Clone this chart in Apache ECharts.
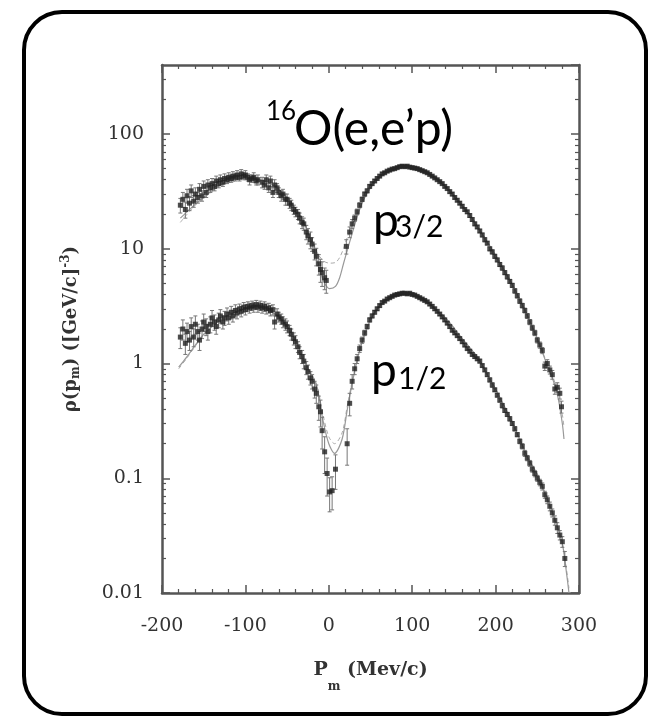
<!DOCTYPE html>
<html><head><meta charset="utf-8">
<script src="https://cdn.jsdelivr.net/npm/echarts@6/dist/echarts.min.js"></script>
<style>html,body{margin:0;padding:0;background:#fff}#c{width:651px;height:718px}</style>
</head><body><div id="c"></div>
<script>
// ---- axis ticks ----
const xTicks = [-200, -100, 0, 100, 200, 300];
const yTickLabels = ['0.01', '0.1', '1', '10', '100'];

// ---- theory curves (momentum MeV/c, density) ----
const curveMom32 = [-178,-170,-160,-150,-140,-130,-120,-110,-100,-90,-80,-70,-60,-50,-40,-30,-20,-13,-6,1,8,13,18,22,28,35,42,50,60,70,80,90,100,110,120,130,140,150,160,170,180,190,200,210,220,230,240,250,260,270,275,280,282];
const solid32 = [18.5,21,24.5,28,32,36,39,41,41.5,41,39.5,37,33,28,22.5,17,11,7.5,5.2,4.5,4.7,5.6,7.6,9.6,13.6,20,27,34,41,46.5,50,52,51.5,49,45.5,41,35.5,29.5,24,19.5,15,11.5,8.8,6.6,4.9,3.5,2.45,1.65,1.05,0.68,0.5,0.3,0.22];
const dashed32 = [17,20,24,27.5,31.5,35.5,38.5,40.5,41.5,41,39.5,37,33,28,22.5,17,11.5,9,7.8,7.5,7.6,8.4,10.2,12.5,16,21,27.5,34,41,46.5,50,52,51.5,49,45.5,41,35.5,29.5,24,19.5,15,11.5,8.8,6.6,4.9,3.5,2.45,1.65,1.08,0.72,0.55,0.36,0.28];

const curveMom12 = [-180,-170,-160,-150,-140,-130,-120,-110,-100,-90,-80,-70,-60,-50,-40,-30,-20,-14,-7,0,7,16,22,28,35,42,50,60,70,80,90,100,110,120,130,140,150,160,170,180,190,200,210,220,230,240,250,260,270,280,285,288];
const solid12 = [0.93,1.15,1.45,1.8,2.1,2.4,2.65,2.85,3.0,3.05,3.0,2.85,2.55,2.1,1.6,1.05,0.78,0.62,0.32,0.2,0.165,0.22,0.39,0.67,1.15,1.7,2.4,3.1,3.6,3.95,4.1,4.0,3.75,3.4,2.9,2.5,2.05,1.65,1.35,1.1,0.8,0.6,0.43,0.31,0.21,0.145,0.108,0.072,0.046,0.027,0.015,0.01];
const dashed12 = [0.9,1.12,1.42,1.78,2.1,2.4,2.65,2.85,3.0,3.05,3.0,2.85,2.55,2.1,1.6,1.08,0.8,0.64,0.36,0.23,0.2,0.25,0.42,0.7,1.15,1.7,2.4,3.1,3.6,3.95,4.1,4.0,3.75,3.4,2.9,2.5,2.05,1.65,1.35,1.1,0.8,0.6,0.43,0.31,0.21,0.145,0.108,0.072,0.046,0.027,0.016,0.011];

// ---- measured points [momentum, density, error] ----
const data32 = [
[-178,24,3.5],[-175,27,4],[-172,22,3.5],[-170,29,4],[-167,25,3.5],[-165,32,4],[-162,26,3],[-160,30,4],[-157,28,3],[-155,33,4],
[-152,29,3],[-150,35,4],[-147,31,3],[-145,36,4],[-142,34,3],[-140,37,4],[-137,35,3],[-135,39,4],[-132,37,3],[-130,40,4],
[-127,38,3],[-125,41,4],[-122,40,3],[-120,42,4],[-117,41,3],[-115,43,4],[-112,42,3],[-110,44,4],[-107,42,3],[-105,45,4],
[-102,43,3],[-100,44,4],[-97,42,3],[-95,40,4],[-92,41,3],[-90,42,4],[-87,39,3],[-85,40,4],[-80,38,4],[-77,36,3],
[-75,40,4],[-72,34,3],[-70,39,4],[-67,31,3],[-65,36,4],[-62,34,3],[-60,31,3],[-57,29,3],[-55,30,3],[-52,27,3],
[-50,27,3],[-47,25,2.5],[-45,24,2.5],[-42,22,2],[-40,21,2],[-37,20,2],[-35,18.5,2],[-32,17,2],[-30,16.5,2],[-27,14,2],
[-25,13,2],[-22,12,2],[-20,11,1.5],[-17,9.5,1.5],[-15,8.6,1.5],[-12,7.4,1.5],[-10,6.6,1.5],[-8,6.2,1.5],[-5,5.6,1.2],[-3,5.3,1.2],
[21,10.5,1.5],[25,14,1.5],[28,16.5,1.5],[31,18.5,1.2],[34,21,1.2],[37,24,1.2],[40,27,1.2],[43,30,1.2],[46,32,1.2],[49,35,1.2],
[52,37,1.2],[55,39,1.2],[58,41,1.2],[61,43,1.2],[64,45,1.2],[67,46,1.2],[70,47.5,1.2],[73,48.5,1.2],[76,49.5,1.2],[79,50,1.2],
[82,51,1.2],[85,52,1.2],[88,52.5,1.2],[91,52,1.2],[94,52.5,1.2],[97,51.5,1.2],[100,51,1.2],[103,50.5,1.2],[106,50,1.2],[109,49,1.2],
[112,48,1.2],[115,47,1.2],[118,46,1.2],[121,44.5,1.2],[124,43,1.2],[127,41.5,1],[130,40,1],[133,38.5,1],[136,37,1],[139,35,1],
[142,33.5,1],[145,31.5,1],[148,30,1],[151,28,0.8],[154,26.5,0.8],[157,25,0.8],[160,23.5,0.8],[163,22,0.7],[166,21,0.7],[169,19.5,0.7],
[172,18,0.6],[175,16.5,0.6],[178,15.5,0.5],[181,14.3,0.5],[184,13.2,0.5],[187,12,0.5],[190,11.2,0.4],[193,10,0.4],[196,9.4,0.4],[199,8.6,0.35],
[202,8,0.3],[205,7.3,0.3],[208,6.8,0.3],[211,6.2,0.25],[214,5.7,0.25],[217,5.2,0.2],[220,4.8,0.2],[223,4.3,0.2],[226,3.9,0.18],[229,3.5,0.16],
[232,3.2,0.15],[235,2.9,0.14],[238,2.6,0.13],[241,2.3,0.12],[244,2.05,0.11],[247,1.85,0.1],[250,1.6,0.09],[253,1.45,0.09],[256,1.3,0.08],[259,0.95,0.08],
[262,1.0,0.08],[265,0.88,0.07],[268,0.8,0.07],[271,0.6,0.06],[274,0.62,0.06],[277,0.55,0.06],[279,0.42,0.05]
];
const data12 = [
[-178,1.7,0.35],[-175,2.0,0.4],[-172,1.5,0.3],[-170,1.9,0.35],[-167,1.6,0.3],[-165,2.1,0.4],[-162,1.7,0.3],[-160,2.2,0.4],[-157,1.9,0.3],[-155,1.6,0.3],
[-152,2.0,0.35],[-150,2.3,0.4],[-147,2.1,0.35],[-145,1.9,0.3],[-142,2.2,0.35],[-140,2.5,0.4],[-137,2.3,0.35],[-135,2.1,0.3],[-132,2.4,0.35],[-130,2.6,0.35],
[-127,2.3,0.3],[-125,2.5,0.35],[-122,2.7,0.35],[-120,2.5,0.3],[-117,2.8,0.35],[-115,2.6,0.3],[-112,2.9,0.35],[-110,2.75,0.3],[-107,3.0,0.3],[-105,2.85,0.3],
[-102,3.1,0.3],[-100,2.95,0.3],[-97,3.15,0.3],[-95,3.05,0.3],[-92,3.2,0.3],[-90,3.1,0.3],[-87,3.25,0.3],[-85,3.1,0.3],[-82,3.2,0.3],[-80,3.05,0.3],
[-77,3.15,0.3],[-75,3.0,0.3],[-72,3.05,0.3],[-70,2.9,0.3],[-67,2.95,0.3],[-65,2.3,0.3],[-62,2.7,0.3],[-60,2.55,0.25],[-57,2.45,0.25],[-55,2.3,0.25],
[-52,2.2,0.25],[-50,2.1,0.25],[-47,1.95,0.2],[-45,1.8,0.2],[-42,1.65,0.2],[-40,1.55,0.2],[-37,1.4,0.15],[-35,1.25,0.15],[-32,1.15,0.15],[-30,1.05,0.15],
[-27,0.92,0.12],[-25,0.85,0.12],[-22,0.75,0.1],[-20,0.7,0.1],[-17,0.6,0.1],[-15,0.55,0.1],[-12,0.42,0.1],[-10,0.38,0.1],[-8,0.26,0.08],[-5,0.17,0.06],
[-2,0.11,0.04],[1,0.076,0.025],[4,0.078,0.025],[8,0.12,0.04],
[22,0.2,0.07],[25,0.45,0.1],[28,0.7,0.1],[31,0.9,0.1],[34,1.1,0.1],[37,1.35,0.1],[40,1.6,0.1],[43,1.85,0.1],[46,2.1,0.1],[49,2.4,0.1],
[52,2.6,0.1],[55,2.8,0.1],[58,3.0,0.1],[61,3.2,0.1],[64,3.4,0.1],[67,3.5,0.1],[70,3.65,0.1],[73,3.75,0.1],[76,3.85,0.1],[79,3.95,0.1],
[82,4.0,0.1],[85,4.05,0.1],[88,4.1,0.1],[91,4.1,0.1],[94,4.05,0.1],[97,4.1,0.1],[100,4.0,0.1],[103,3.95,0.1],[106,3.85,0.1],[109,3.75,0.1],
[112,3.65,0.1],[115,3.55,0.1],[118,3.45,0.1],[121,3.3,0.1],[124,3.15,0.1],[127,3.0,0.1],[130,2.85,0.08],[133,2.7,0.08],[136,2.55,0.08],[139,2.4,0.08],
[142,2.25,0.07],[145,2.1,0.07],[148,1.95,0.06],[151,1.85,0.06],[154,1.75,0.05],[157,1.65,0.05],[160,1.55,0.05],[163,1.45,0.05],[166,1.35,0.04],[169,1.28,0.04],
[172,1.2,0.04],[175,1.15,0.04],[178,1.1,0.04],[181,1.05,0.04],[184,0.96,0.03],[187,0.88,0.03],[190,0.8,0.03],[193,0.72,0.03],[196,0.65,0.03],[199,0.59,0.02],
[202,0.53,0.02],[205,0.48,0.02],[208,0.43,0.02],[211,0.39,0.015],[214,0.36,0.015],[217,0.33,0.015],[220,0.3,0.012],[223,0.27,0.012],[226,0.24,0.01],[229,0.21,0.01],
[232,0.19,0.01],[235,0.165,0.01],[238,0.15,0.008],[241,0.135,0.008],[244,0.12,0.007],[247,0.11,0.007],[250,0.1,0.006],[253,0.092,0.006],[256,0.085,0.006],[259,0.072,0.005],
[262,0.065,0.005],[265,0.057,0.005],[268,0.05,0.004],[271,0.043,0.004],[274,0.037,0.004],[277,0.032,0.003],[280,0.028,0.003],[283,0.02,0.003]
];

// ---- build ----
const zip = (xs, ys) => xs.map((x, i) => [x, ys[i]]);
const yMinor = [];
[0.01, 0.1, 1, 10, 100].forEach(d => { for (let k = 2; k <= 9; k++) { const v = +(d * k).toPrecision(3); if (v < 400) yMinor.push(v); } });

const AX = '#555';
const serif = 'DejaVu Serif';
const chart = echarts.init(document.getElementById('c'), null, { renderer: 'canvas' });

function errItem(params, api) {
  const x = api.value(0);
  const a = api.coord([x, api.value(1)]);
  const b = api.coord([x, api.value(2)]);
  const st = { stroke: '#777', lineWidth: 1 };
  return { type: 'group', children: [
    { type: 'line', shape: { x1: a[0], y1: a[1], x2: b[0], y2: b[1] }, style: st },
    { type: 'line', shape: { x1: a[0] - 2, y1: a[1], x2: a[0] + 2, y2: a[1] }, style: st },
    { type: 'line', shape: { x1: b[0] - 2, y1: b[1], x2: b[0] + 2, y2: b[1] }, style: st }
  ]};
}
const errData = d => d.map(p => [p[0], p[1] - p[2], p[1] + p[2]]);

const baseX = {
  type: 'value', min: -200, max: 300, interval: 100,
  axisLine: { show: true, onZero: false, lineStyle: { color: AX, width: 2.5 } },
  axisTick: { show: true, inside: true, length: 8, lineStyle: { color: AX, width: 1.5 } },
  minorTick: { show: true, splitNumber: 5, length: 4, lineStyle: { color: AX, width: 1.2 } },
  splitLine: { show: false }
};
const baseY = {
  type: 'log', logBase: 10, min: 0.01, max: 400,
  splitLine: { show: false }
};

const option = {
  animation: false,
  backgroundColor: '#fff',
  grid: { left: 162, right: 72, top: 65, bottom: 125 },
  xAxis: [
    Object.assign({}, baseX, {
      position: 'bottom',
      axisLabel: { show: true, margin: 24, fontFamily: serif, fontSize: 19, color: '#333',
        formatter: v => xTicks.includes(v) ? String(v) : '' },
      name: '{a|P}{s|m}{a| (Mev/c)}', nameLocation: 'middle', nameGap: 68,
      nameTextStyle: { rich: {
        a: { fontFamily: serif, fontWeight: 'bold', fontSize: 19, color: '#333', lineHeight: 24, verticalAlign: 'top' },
        s: { fontFamily: serif, fontWeight: 'bold', fontSize: 12, color: '#333', lineHeight: 24, verticalAlign: 'bottom', padding: [0, 0, -8, 0] }
      } }
    }),
    Object.assign({}, baseX, { position: 'top', axisLabel: { show: false } })
  ],
  yAxis: [
    Object.assign({}, baseY, {
      position: 'left',
      axisLine: { show: true, onZero: false, lineStyle: { color: AX, width: 2.5 } },
      axisTick: { show: true, inside: true, length: 8, lineStyle: { color: AX, width: 1.5 } },
      axisLabel: { show: true, margin: 18, fontFamily: serif, fontSize: 19, color: '#333', showMaxLabel: false,
        formatter: v => { const s = String(+v.toPrecision(3)); return yTickLabels.includes(s) ? s : ''; } },
      name: '{a|ρ(p}{s|m}{a|) ([GeV/c]}{u|-3}{a|)}', nameLocation: 'middle', nameGap: 80,
      nameTextStyle: { rich: {
        a: { fontFamily: serif, fontWeight: 'bold', fontSize: 18, color: '#333', lineHeight: 22 },
        s: { fontFamily: serif, fontWeight: 'bold', fontSize: 12, color: '#333', lineHeight: 22, padding: [10, 0, 0, 0] },
        u: { fontFamily: serif, fontWeight: 'bold', fontSize: 12, color: '#333', lineHeight: 22, padding: [0, 0, 10, 0] }
      } }
    }),
    Object.assign({}, baseY, {
      position: 'left', axisLine: { show: false, onZero: false }, axisLabel: { show: false },
      axisTick: { show: true, inside: true, length: 4, customValues: yMinor, lineStyle: { color: AX, width: 1.2 } }
    }),
    Object.assign({}, baseY, {
      position: 'right',
      axisLine: { show: true, onZero: false, lineStyle: { color: AX, width: 2.5 } },
      axisTick: { show: true, inside: true, length: 8, lineStyle: { color: AX, width: 1.5 } },
      axisLabel: { show: false }
    }),
    Object.assign({}, baseY, {
      position: 'right', axisLine: { show: false, onZero: false }, axisLabel: { show: false },
      axisTick: { show: true, inside: true, length: 4, customValues: yMinor, lineStyle: { color: AX, width: 1.2 } }
    })
  ],
  series: [
    { type: 'line', data: zip(curveMom32, dashed32), smooth: 0.3, showSymbol: false, lineStyle: { color: '#aaa', width: 1, type: [4, 3] }, z: 1 },
    { type: 'line', data: zip(curveMom32, solid32), smooth: 0.3, showSymbol: false, lineStyle: { color: '#999', width: 1.2 }, z: 1 },
    { type: 'line', data: zip(curveMom12, dashed12), smooth: 0.3, showSymbol: false, lineStyle: { color: '#aaa', width: 1, type: [4, 3] }, z: 1 },
    { type: 'line', data: zip(curveMom12, solid12), smooth: 0.3, showSymbol: false, lineStyle: { color: '#999', width: 1.2 }, z: 1 },
    { type: 'custom', renderItem: errItem, data: errData(data32), z: 2 },
    { type: 'custom', renderItem: errItem, data: errData(data12), z: 2 },
    { type: 'scatter', data: data32.map(p => [p[0], p[1]]), symbol: 'rect', symbolSize: 5, itemStyle: { color: '#222', opacity: 0.8 }, z: 3 },
    { type: 'scatter', data: data12.map(p => [p[0], p[1]]), symbol: 'rect', symbolSize: 5, itemStyle: { color: '#222', opacity: 0.8 }, z: 3 }
  ],
  graphic: [
    { type: 'rect', shape: { x: 24, y: 12, width: 622, height: 702, r: 38 }, style: { fill: 'none', stroke: '#000', lineWidth: 4 }, z: 100 },
    { type: 'text', x: 266, y: 99, style: { text: '16', font: '26px Lato', fill: '#000', verticalAlign: 'top' }, z: 100 },
    { type: 'text', x: 294, y: 106, style: { text: 'O(e,e’p)', font: '48px Lato', fill: '#000', verticalAlign: 'top' }, z: 100 },
    { type: 'text', x: 373, y: 198, style: { text: 'p', font: '46px Lato', fill: '#000', verticalAlign: 'top' }, z: 100 },
    { type: 'text', x: 395, y: 212, style: { text: '3/2', font: '30px Lato', fill: '#000', verticalAlign: 'top' }, z: 100 },
    { type: 'text', x: 371, y: 348, style: { text: 'p', font: '46px Lato', fill: '#000', verticalAlign: 'top' }, z: 100 },
    { type: 'text', x: 398, y: 364, style: { text: '1/2', font: '30px Lato', fill: '#000', verticalAlign: 'top' }, z: 100 }
  ]
};
chart.setOption(option);
</script></body></html>
